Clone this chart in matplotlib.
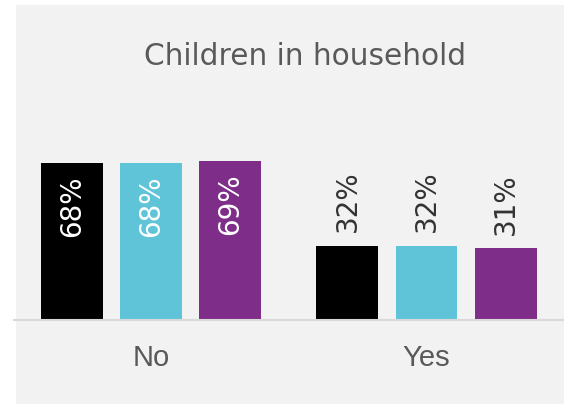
import numpy as np
import matplotlib.pyplot as plt
from matplotlib.patches import Rectangle

# Data
groups = ['No', 'Yes']
series_a = [68, 32]
series_b = [68, 32]
series_c = [69, 31]
colors = ['#000000', '#60c4d9', '#7e2e88']

W, H = 564, 404
fig = plt.figure(figsize=(W / 100, H / 100), dpi=100)
fig.patch.set_facecolor('white')

# grey panel behind the chart
fig.patches.append(Rectangle((16 / W, 0), 1 - 16 / W, 1 - 5 / H,
                             transform=fig.transFigure, facecolor='#f2f2f2',
                             edgecolor='none', zorder=-5))

ax = fig.add_axes([14 / W, (H - 320) / H, 550 / W, 231 / H])
ax.set_facecolor('none')
ax.set_zorder(2)

lbl_font = dict(fontsize=20, family='DejaVu Sans')

x = np.arange(len(groups))
step = 0.2868
width = 0.225
for i, (vals, c) in enumerate(zip([series_a, series_b, series_c], colors)):
    pos = x + (i - 1) * step
    ax.bar(pos, vals, width=width, color=c, zorder=2)
    for xp, v in zip(pos, vals):
        if v > 50:
            ax.annotate(f'{v}%', (xp, v), xytext=(0, -9), textcoords='offset points',
                        ha='center', va='top', rotation=90, color='white', **lbl_font)
        else:
            ax.annotate(f'{v}%', (xp, v), xytext=(0, 10), textcoords='offset points',
                        ha='center', va='bottom', rotation=90, color='#333333', **lbl_font)

ax.set_xlim(-0.497, 1.499)
ax.set_ylim(0, 100)
ax.set_xticks(x)
ax.set_xticklabels(groups, fontsize=21, color='#595959', family='Liberation Sans')
ax.tick_params(axis='x', length=0, pad=17)
ax.set_yticks([])
for s in ['top', 'left', 'right']:
    ax.spines[s].set_visible(False)
ax.spines['bottom'].set_color('#d9d9d9')
ax.spines['bottom'].set_linewidth(1.5)

fig.text(305 / W, 1 - 65 / H, 'Children in household', ha='center', va='baseline',
         fontsize=21.3, color='#595959', family='DejaVu Sans')

fig.savefig('out.png', dpi=100)
